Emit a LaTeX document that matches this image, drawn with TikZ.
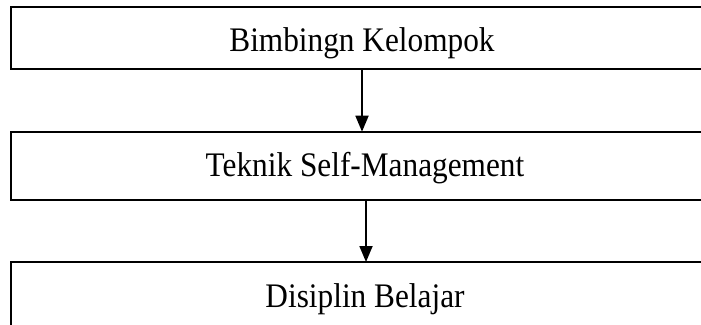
\documentclass[tikz,border=0pt]{standalone}
\usepackage{fontspec}
\setmainfont{Liberation Serif}
\usetikzlibrary{arrows.meta}
\begin{document}
\begin{tikzpicture}[x=1pt,y=-1pt,
  box/.style={draw=black,line width=1.8pt,rectangle,minimum width=702pt,inner sep=0pt,outer sep=0pt},
  lbl/.style={anchor=base,inner sep=0pt,font=\fontsize{31.3}{36}\selectfont},
  arr/.style={line width=1.8pt,-{Triangle[length=16pt,width=13pt]}}]
\useasboundingbox (0,0) rectangle (701,324);
\clip (0,0) rectangle (701,324);
\node[box,minimum height=62pt] (b1) at (362,38) {};
\node[box,minimum height=68.3pt] (b2) at (362,165.85) {};
\node[box,minimum height=78pt] (b3) at (362,301) {};
\node[lbl] (t1) at (362,51) {\scalebox{1}[1.1]{Bimbingn Kelompok}};
\node[lbl] (t2) at (365,176) {\scalebox{1}[1.1]{Teknik Self-Management}};
\node[lbl] (t3) at (365,307) {\scalebox{1}[1.1]{Disiplin Belajar}};
\draw[arr] (b1.south) -- (b2.north);
\draw[arr] ([xshift=4pt]b2.south) -- ([xshift=4pt]b3.north);
\end{tikzpicture}
\end{document}
